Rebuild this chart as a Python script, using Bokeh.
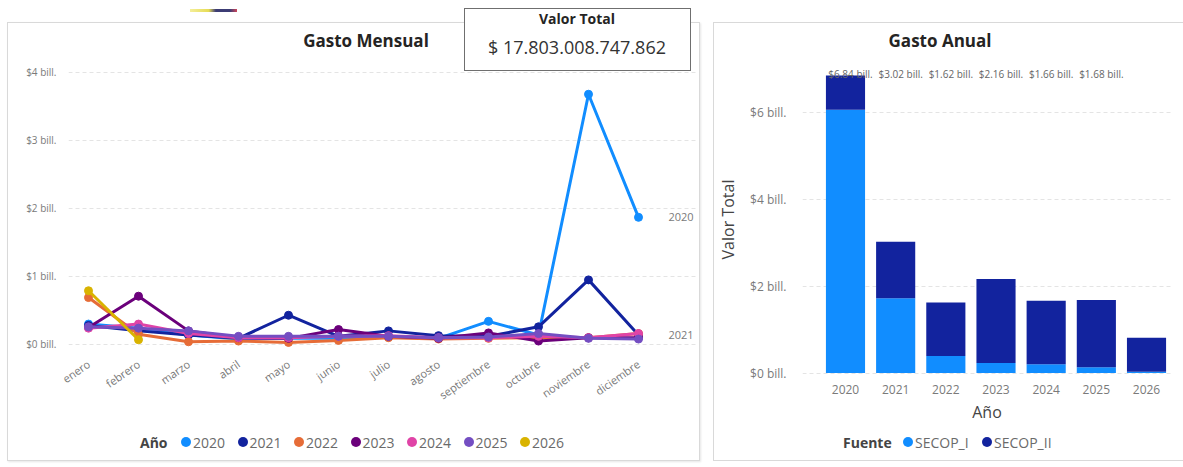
import math
from bokeh.plotting import figure
from bokeh.models import (Range1d, FixedTicker, Label, ColumnDataSource, Div)
from bokeh.core.properties import value
from bokeh.embed import file_html
from bokeh.resources import INLINE

FONT = "Open Sans"

# ---------------- data: Gasto Mensual (billones) ----------------
months = ["enero", "febrero", "marzo", "abril", "mayo", "junio", "julio",
          "agosto", "septiembre", "octubre", "noviembre", "diciembre"]
line_years = ["2020", "2021", "2022", "2023", "2024", "2025", "2026"]
gasto_2020 = [0.30, 0.24, 0.14, 0.08, 0.09, 0.09, 0.11, 0.09, 0.34, 0.14, 3.68, 1.87]
gasto_2021 = [0.28, 0.20, 0.14, 0.09, 0.43, 0.12, 0.20, 0.13, 0.12, 0.26, 0.95, 0.14]
gasto_2022 = [0.69, 0.15, 0.04, 0.05, 0.03, 0.06, 0.10, 0.08, 0.09, 0.10, 0.10, 0.16]
gasto_2023 = [0.25, 0.71, 0.20, 0.10, 0.09, 0.22, 0.12, 0.09, 0.17, 0.05, 0.10, 0.10]
gasto_2024 = [0.24, 0.30, 0.16, 0.10, 0.10, 0.12, 0.13, 0.10, 0.10, 0.12, 0.10, 0.16]
gasto_2025 = [0.26, 0.24, 0.20, 0.12, 0.12, 0.12, 0.12, 0.10, 0.11, 0.16, 0.09, 0.08]
gasto_2026 = [0.79, 0.07]
line_colors = ["#118DFF", "#12239E", "#E66C37", "#6B007B", "#E044A7", "#744EC2", "#D9B300"]
end_labelled = ["2020", "2021"]
left_y_ticks = [0, 1, 2, 3, 4]
left_y_tick_labels = ["$0 bill.", "$1 bill.", "$2 bill.", "$3 bill.", "$4 bill."]
left_title = "Gasto Mensual"
left_legend_title = "Año"
valor_total_title = "Valor Total"
valor_total = "$ 17.803.008.747.862"

# ---------------- data: Gasto Anual (billones) ----------------
bar_years = [2020, 2021, 2022, 2023, 2024, 2025, 2026]
secop_i = [6.05, 1.72, 0.39, 0.23, 0.20, 0.13, 0.03]
secop_ii = [0.79, 1.30, 1.23, 1.93, 1.46, 1.55, 0.78]
fuentes = ["SECOP_I", "SECOP_II"]
fuente_colors = ["#118DFF", "#12239E"]
bar_labels = ["$6.84 bill.", "$3.02 bill.", "$1.62 bill.", "$2.16 bill.", "$1.66 bill.", "$1.68 bill."]
right_y_ticks = [0, 2, 4, 6]
right_y_tick_labels = ["$0 bill.", "$2 bill.", "$4 bill.", "$6 bill."]
right_title = "Gasto Anual"
right_legend_title = "Fuente"

series = [gasto_2020, gasto_2021, gasto_2022, gasto_2023, gasto_2024, gasto_2025, gasto_2026]

TICK_COLOR = "#7a7a7a"


def style_axes(p):
    for ax in (p.xaxis[0], p.yaxis[0]):
        ax.axis_line_color = None
        ax.major_tick_line_color = None
        ax.minor_tick_line_color = None
        ax.major_label_text_font = FONT
        ax.major_label_text_color = TICK_COLOR
        ax.axis_label_text_font = FONT
        ax.axis_label_text_font_style = "normal"
        ax.axis_label_text_color = "#444444"
    p.xgrid.grid_line_color = None
    p.ygrid.grid_line_color = "#e4e4e4"
    p.ygrid.grid_line_dash = "4 3"
    p.outline_line_color = None


# ======================= left: Gasto Mensual =======================
X0, X1 = -0.4, 12.2
p1 = figure(width=700, height=467, output_backend="svg", toolbar_location=None,
            x_range=Range1d(X0, X1), y_range=Range1d(-0.118, 4.147),
            min_border_left=68, min_border_right=2, min_border_top=62,
            min_border_bottom=115,
            styles={"position": "absolute", "left": "0px", "top": "0px"})
style_axes(p1)
p1.ygrid.bounds = (X0, len(months) - 1 + 0.44)
p1.xaxis.ticker = FixedTicker(ticks=list(range(len(months))))
p1.xaxis.major_label_overrides = {i: m for i, m in enumerate(months)}
p1.xaxis.major_label_orientation = math.radians(35)
p1.xaxis.major_label_text_font_size = "11px"
p1.xaxis.major_label_standoff = 4
p1.yaxis.ticker = FixedTicker(ticks=left_y_ticks)
p1.yaxis.major_label_overrides = dict(zip(left_y_ticks, left_y_tick_labels))
p1.yaxis.major_label_text_font_size = "10px"
p1.yaxis.major_label_standoff = 6

for yr, vals, col in zip(line_years, series, line_colors):
    xs = list(range(len(vals)))
    src = ColumnDataSource(dict(x=xs, y=vals))
    p1.line("x", "y", source=src, line_width=3, line_color=col, line_join="round")
    p1.scatter("x", "y", source=src, size=8, marker="circle",
               fill_color=col, line_color=col)

for yr, vals in zip(line_years, series):
    if yr in end_labelled:
        p1.add_layout(Label(x=len(vals) - 1 + 0.6, y=vals[-1], text=yr,
                            text_font=FONT, text_font_size="11px",
                            text_color=TICK_COLOR, text_baseline="middle",
                            text_align="left"))

# ======================= right: Gasto Anual =======================
p2 = figure(width=483, height=467, output_backend="svg", toolbar_location=None,
            x_range=Range1d(2019.143, 2026.498), y_range=Range1d(-0.08, 7.138),
            min_border_left=102, min_border_right=12, min_border_top=62,
            min_border_bottom=91,
            styles={"position": "absolute", "left": "700px", "top": "0px"})
style_axes(p2)
p2.xaxis.ticker = FixedTicker(ticks=bar_years)
p2.xaxis.major_label_text_font_size = "12px"
p2.xaxis.major_label_standoff = 2
p2.xaxis.axis_label = "Año"
p2.xaxis.axis_label_text_font_size = "16px"
p2.xaxis.axis_label_standoff = 4
p2.yaxis.ticker = FixedTicker(ticks=right_y_ticks)
p2.yaxis.major_label_overrides = dict(zip(right_y_ticks, right_y_tick_labels))
p2.yaxis.major_label_text_font_size = "12px"
p2.yaxis.major_label_standoff = 10
p2.yaxis.axis_label = "Valor Total"
p2.yaxis.axis_label_text_font_size = "16px"
p2.yaxis.axis_label_standoff = 8

bsrc = ColumnDataSource(dict(year=bar_years, SECOP_I=secop_i, SECOP_II=secop_ii))
p2.vbar_stack(fuentes, x="year", width=0.78, color=fuente_colors, source=bsrc,
              line_color=None)

totals = [a + b for a, b in zip(secop_i, secop_ii)]
label_y = max(totals) + 0.03
p2.text(x=bar_years[:len(bar_labels)], y=[label_y] * len(bar_labels), text=bar_labels,
        text_font=value(FONT), text_font_size="10px", text_color="#666666",
        text_align="center", text_baseline="middle", x_offset=5)

# ======================= page furniture (HTML) =======================
def box(left, top, width, height, style=""):
    return (f'<div style="position:absolute;left:{left}px;top:{top}px;width:{width}px;'
            f'height:{height}px;box-sizing:border-box;{style}"></div>')


def text(cx, cy, txt, size, weight="normal", color="#252423", align="center", w=300):
    lh = int(size * 1.5)
    left = cx - w / 2 if align == "center" else cx
    return (f'<div style="position:absolute;left:{left}px;top:{cy - lh / 2}px;width:{w}px;'
            f'height:{lh}px;line-height:{lh}px;text-align:{align};font-family:\'{FONT}\';'
            f'font-size:{size}px;font-weight:{weight};color:{color};white-space:nowrap;">{txt}</div>')


def legend(x_first, pitch, cy, labels, colors):
    parts = []
    for i, (lab, col) in enumerate(zip(labels, colors)):
        cx = x_first + (pitch[i] if isinstance(pitch, list) else pitch * i)
        parts.append(box(cx - 5, cy - 5, 10, 10, f"border-radius:50%;background:{col};"))
        parts.append(text(cx + 7, cy, lab, 14, "normal", "#6a6a6a", "left", 80))
    return "".join(parts)


html = "".join([
    box(7, 22, 693, 439, "border:1px solid #d9d9d9;box-shadow:1px 1px 2px rgba(0,0,0,0.10);"),
    box(713, 22, 470, 439, "border:1px solid #d9d9d9;border-right:none;"),
    box(190, 9, 47, 3, "background:linear-gradient(to right,#f4ee9a,#e6dc55 40%,#3c3c74 55%,#3c3c74 85%,#d0465a);"),
    text(366, 40, left_title, 17, "bold"),
    text(940, 40, right_title, 17, "bold"),
    box(464, 8, 227, 63, "border:1.5px solid #6f6f6f;background:white;"),
    text(577, 18, valor_total_title, 14, "bold"),
    text(577, 47, valor_total, 18, "normal", "#333333"),
    text(140, 442, left_legend_title, 14, "bold", "#444444", "left", 40),
    legend(186, 56.5, 442, line_years, line_colors),
    text(843, 442, right_legend_title, 14, "bold", "#444444", "left", 60),
    legend(908, [0, 79], 442, fuentes, fuente_colors),
])
overlay = Div(text=html, width=1183, height=467, margin=0,
              styles={"position": "absolute", "left": "0px", "top": "0px",
                      "z-index": "10", "pointer-events": "none"})

open("out.html", "w").write(file_html([p1, p2, overlay], INLINE))
